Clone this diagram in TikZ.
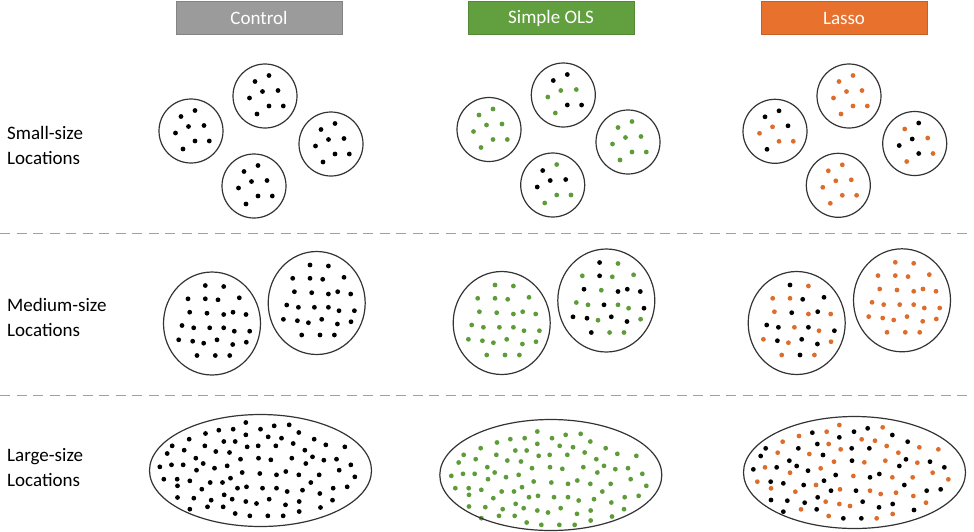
\documentclass[tikz,border=0pt]{standalone}
\usepackage{fontspec}
\setmainfont{Carlito}
\definecolor{hdrgray}{HTML}{9B9B9B}
\definecolor{hdrgreen}{HTML}{62A03F}
\definecolor{hdrorange}{HTML}{E8712E}
\colorlet{K}{black}
\definecolor{G}{HTML}{5E9C3A}
\definecolor{O}{HTML}{DE6C2A}
\definecolor{dashgray}{HTML}{A0A0A0}
\definecolor{rim}{HTML}{333333}
\newcommand\smalldots[8]{%
  \fill[#1] (-10,-14.5) circle[radius=2.4pt];
  \fill[#2] (4,-20.5) circle[radius=2.4pt];
  \fill[#3] (-2.5,-4.5) circle[radius=2.4pt];
  \fill[#4] (13,-5.5) circle[radius=2.4pt];
  \fill[#5] (-15.5,2) circle[radius=2.4pt];
  \fill[#6] (4,10) circle[radius=2.4pt];
  \fill[#7] (18.3,10) circle[radius=2.4pt];
  \fill[#8] (-8,18) circle[radius=2.4pt];
  \draw[rimline] (0,0) circle[radius=32pt];}
\def\medpat{-6.7/-38, 11.7/-37, -24/-24.7, -6.7/-24.7, 6/-23.7, 27.3/-25.7,
  -22.3/-11.3, -5/-10.3, 11.7/-9, 21/-11.3, 34/-9, -30/2, -18.3/4.3, -2.3/4.3,
  11.7/4.3, 22.3/7.7, 37.7/7.7, -33.3/16.3, -19.3/17.7, -8.3/19.7, 5/16.3,
  20.7/21, 34.3/18.7, -15/32, 3.3/32, 17.7/32}
\def\largeO{328/75, 458/82, 290/95, 207/108, 395/118, 435/122, 158/125, 296/132,
  470/138, 568/142, 625/148, 332/148, 143/158, 238/162, 505/158, 312/185, 403/187,
  466/182, 562/188, 105/202, 272/205, 180/218, 370/228, 487/232, 548/232, 608/218,
  82/245, 258/255, 655/238, 123/265, 196/275, 330/268, 420/272, 452/282, 498/278,
  550/288, 287/305, 328/312, 360/318, 588/308, 213/328, 296/348, 440/355, 488/342}
\def\largeK{413/85, 247/98, 372/95, 487/105, 328/112, 533/125, 262/132, 107/145,
  205/145, 365/145, 418/145, 279/165, 92/168, 178/182, 366/182, 528/178, 600/185,
  70/208, 140/202, 200/198, 234/212, 508/198, 643/202, 317/225, 420/232, 448/222,
  122/245, 160/250, 221/255, 282/242, 523/255, 303/272, 378/272, 590/272, 632/268,
  263/292, 123/300, 172/302, 224/308, 398/305, 488/312, 260/328, 447/322, 160/335,
  552/330, 340/355, 394/355}
\begin{document}
\begin{tikzpicture}[x=1pt,y=-1pt,
  hdr/.style={minimum width=166pt, minimum height=33pt, inner sep=0pt, text=white,
    font=\fontsize{19}{22}\selectfont},
  rowlabel/.style={anchor=west, align=left, inner sep=0pt, font=\fontsize{19}{25}\selectfont},
  rimline/.style={draw=rim, line width=1.2pt},
  sep/.style={draw=dashgray, line width=1.5pt, dash pattern=on 10pt off 6.5pt},
  dotr/.style={radius=2.4pt}]
\useasboundingbox (0,0) rectangle (974,531);

% headers
\node[hdr, fill=hdrgray, draw=hdrgray!85!black, line width=0.6pt] (hc) at (259,18) {Control};
\node[hdr, fill=hdrgreen, draw=hdrgreen!85!black, line width=0.6pt] (ho) at (551,18) {Simple OLS};
\node[hdr, fill=hdrorange, draw=hdrorange!85!black, line width=0.6pt] (hl) at (844,18) {Lasso};

% row labels
\node[rowlabel] (ls) at (7,145) {Small-size\\Locations};
\node[rowlabel] (lm) at (7,317.5) {Medium-size\\Locations};
\node[rowlabel] (ll) at (7,467.5) {Large-size\\Locations};

% separators
\draw[sep] (0,233.5) -- (974,233.5);
\draw[sep] (0,395.5) -- (974,395.5);

% ---------- small ----------
\begin{scope}[shift={(191,131)}]\smalldots{K}{K}{K}{K}{K}{K}{K}{K}\end{scope}
\begin{scope}[shift={(265,96)}]\smalldots{K}{K}{K}{K}{K}{K}{K}{K}\end{scope}
\begin{scope}[shift={(331,144)}]\smalldots{K}{K}{K}{K}{K}{K}{K}{K}\end{scope}
\begin{scope}[shift={(254,186)}]\smalldots{K}{K}{K}{K}{K}{K}{K}{K}\end{scope}

\begin{scope}[shift={(489,129.5)}]\smalldots{G}{G}{G}{G}{G}{G}{G}{G}\end{scope}
\begin{scope}[shift={(563.3,95)}]\smalldots{K}{K}{G}{G}{G}{K}{K}{G}\end{scope}
\begin{scope}[shift={(628,142)}]\smalldots{G}{G}{G}{G}{G}{G}{G}{G}\end{scope}
\begin{scope}[shift={(552.7,185)}]\smalldots{K}{G}{K}{K}{K}{G}{G}{G}\end{scope}

\begin{scope}[shift={(775,131.3)}]\smalldots{K}{K}{O}{K}{O}{O}{O}{K}\end{scope}
\begin{scope}[shift={(849,96)}]\smalldots{O}{O}{O}{O}{O}{O}{O}{O}\end{scope}
\begin{scope}[shift={(914.7,143.5)}]\smalldots{O}{K}{K}{O}{K}{K}{O}{O}\end{scope}
\begin{scope}[shift={(838.3,185.3)}]\smalldots{O}{O}{O}{O}{O}{O}{O}{O}\end{scope}

% ---------- medium ----------
\begin{scope}[shift={(212,323.5)}]
  \foreach \x/\y in \medpat {\fill[K] (\x,\y) circle[dotr];}
  \draw[rimline] (0,0) ellipse[x radius=48.5pt, y radius=51.5pt];
\end{scope}
\begin{scope}[shift={(316.7,303)}]
  \foreach \x/\y in \medpat {\fill[K] (\x,\y) circle[dotr];}
  \draw[rimline] (0,0) ellipse[x radius=48.5pt, y radius=51.5pt];
\end{scope}
\begin{scope}[shift={(501.7,323)}]
  \foreach \x/\y in \medpat {\fill[G] (\x,\y) circle[dotr];}
  \draw[rimline] (0,0) ellipse[x radius=48.5pt, y radius=51.5pt];
\end{scope}
\begin{scope}[shift={(606.3,300.5)}]
  \foreach \x/\y/\c in {-6.7/-38/K, 11.7/-37/G, -24/-24.7/G, -6.7/-24.7/K, 6/-23.7/G,
    27.3/-25.7/G, -22.3/-11.3/K, -5/-10.3/G, 11.7/-9/K, 21/-11.3/K, 34/-9/K,
    -30/2/G, -18.3/4.3/G, -2.3/4.3/K, 11.7/4.3/G, 22.3/7.7/G, 37.7/7.7/K,
    -33.3/16.3/K, -19.3/17.7/K, -8.3/19.7/G, 5/16.3/K, 20.7/21/K, 34.3/18.7/G,
    -15/32/K, 3.3/32/G, 17.7/32/G} {\fill[\c] (\x,\y) circle[dotr];}
  \draw[rimline] (0,0) ellipse[x radius=48.5pt, y radius=51.5pt];
\end{scope}
\begin{scope}[shift={(796.7,323)}]
  \foreach \x/\y/\c in {-6.7/-38/K, 11.7/-37/O, -24/-24.7/O, -6.7/-24.7/O, 6/-23.7/K,
    27.3/-25.7/K, -22.3/-11.3/O, -5/-10.3/K, 11.7/-9/O, 21/-11.3/K, 34/-9/O,
    -30/2/K, -18.3/4.3/K, -2.3/4.3/O, 11.7/4.3/K, 22.3/7.7/O, 37.7/7.7/K,
    -33.3/16.3/O, -19.3/17.7/K, -8.3/19.7/O, 5/16.3/K, 20.7/21/K, 34.3/18.7/O,
    -15/32/O, 3.3/32/K, 17.7/32/O} {\fill[\c] (\x,\y) circle[dotr];}
  \draw[rimline] (0,0) ellipse[x radius=48.5pt, y radius=51.5pt];
\end{scope}
\begin{scope}[shift={(902,300.3)}]
  \foreach \x/\y in \medpat {\fill[O] (\x,\y) circle[dotr];}
  \draw[rimline] (0,0) ellipse[x radius=48.5pt, y radius=51.5pt];
\end{scope}

% ---------- large ----------
\foreach \x/\y in \largeO {\fill[K] ({136.5+\x/3},{397.5+\y/3}) circle[dotr];}
\foreach \x/\y in \largeK {\fill[K] ({136.5+\x/3},{397.5+\y/3}) circle[dotr];}
\draw[rimline] (260.5,470.5) ellipse[x radius=111pt, y radius=56pt];

\foreach \x/\y in \largeO {\fill[G] ({428+\x/3},{406.5+\y/3}) circle[dotr];}
\foreach \x/\y in \largeK {\fill[G] ({428+\x/3},{406.5+\y/3}) circle[dotr];}
\draw[rimline] (550.8,475) ellipse[x radius=111pt, y radius=55.5pt];

\foreach \x/\y in \largeO {\fill[O] ({730+\x/3},{400+\y/3}) circle[dotr];}
\foreach \x/\y in \largeK {\fill[K] ({730+\x/3},{400+\y/3}) circle[dotr];}
\draw[rimline] (854.5,472.5) ellipse[x radius=111pt, y radius=56pt];
\end{tikzpicture}
\end{document}
